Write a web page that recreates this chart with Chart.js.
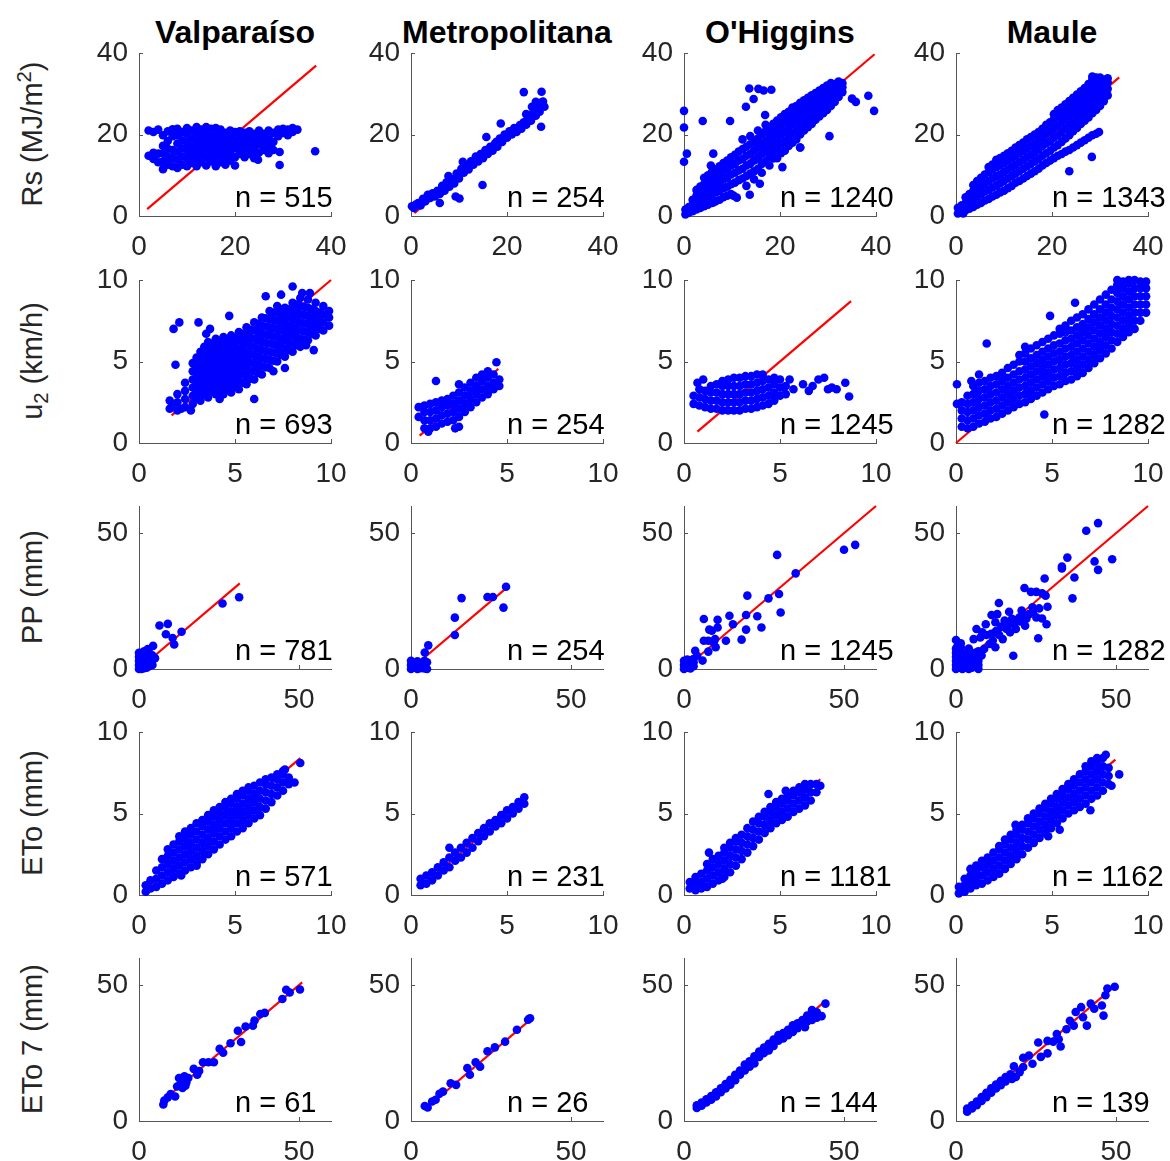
<!DOCTYPE html>
<html>
<head>
<meta charset="utf-8">
<script src="https://cdn.jsdelivr.net/npm/chart.js@4.4.1/dist/chart.umd.min.js"></script>
<style>
    body { margin: 0; background: #fff; }
    #fig { position: relative; width: 1170px; height: 1161px; overflow: hidden; font-family: 'Liberation Sans', Arial, sans-serif; }
    #fig canvas { position: absolute; }
    .title { position: absolute; width: 272px; text-align: center; font-weight: bold; font-size: 32px; line-height: 32px; color: #000; white-space: nowrap; }
    .ylab { position: absolute; font-size: 29px; line-height: 29px; color: #262626; white-space: nowrap; transform: translate(-50%, -50%) rotate(-90deg); }
    .ylab sup { font-size: 70%; line-height: 0; }
    .ylab sub { font-size: 70%; line-height: 0; }
    .nlab { position: absolute; font-size: 29px; line-height: 29px; color: #000; white-space: nowrap; }
</style>
</head>
<body>
<div id="fig"></div>
<script>
// Régions et effectifs
const regions = ['Valparaíso', 'Metropolitana', "O'Higgins", 'Maule'];
const nRs = [515, 254, 1240, 1343];
const nU2 = [693, 254, 1245, 1282];
const nPP = [781, 254, 1245, 1282];
const nETo = [571, 231, 1181, 1162];
const nETo7 = [61, 26, 144, 139];

// Graduations des axes
const ticksRs = [0, 20, 40];
const ticksU2 = [0, 5, 10];
const ticksPP = [0, 50];
const ticksETo = [0, 5, 10];
const ticksETo7 = [0, 50];

// Droites 1:1 (début, fin)
const lineRs = [[1.7, 36.9], [0.7, 28], [0.3, 39.7], [0.5, 34]];
const lineU2 = [[1.7, 10], [0.45, 4.55], [0.7, 8.7], [0, 9.9]];
const linePP = [[0, 31.5], [0, 29.5], [0, 60], [0, 60]];
const lineETo = [[0.3, 8.4], [0.5, 6], [0.5, 7.1], [0.2, 8.3]];
const lineETo7 = [[7, 51], [4.5, 37.5], [4, 44.5], [3.5, 50]];

// Points : chaque entrée = [x, y1, y2, ...]
const rsValparaiso = [
    [2, 14.8, 21], [3, 14, 15.5, 20.6], [4, 13.2, 15.3, 21.2], [5, 11.5, 13.4, 15.4, 17.2, 19.8],
    [6, 12.6, 14.5, 16.5, 18.4, 20.8], [7, 12.2, 14.2, 16.2, 19.6, 21.3], [8, 11.8, 13.8, 15.8, 17.8, 19.8, 21.4],
    [9, 12.6, 14.6, 16.6, 18.6, 20.6], [10, 12.2, 14.2, 16.2, 18.2, 20.2, 21.6], [11, 13, 15, 17, 19, 21],
    [12, 12.2, 14.2, 16.2, 18.2, 20.2, 21.8], [13, 13.2, 15.2, 17.2, 19.2, 21.2],
    [14, 12.4, 14.4, 16.4, 18.4, 20.4, 21.8], [15, 13.4, 15.4, 17.4, 19.4, 21.4],
    [16, 12.2, 14.2, 16.2, 18.2, 20.2, 21.6], [17, 13.2, 15.2, 17.2, 19.2, 21.2], [18, 12.6, 14.4, 16.4, 18.4, 20.4],
    [19, 13.6, 15.4, 17.4, 19.4, 21], [20, 12.4, 14.4, 16.6, 18.6, 20.6], [21, 15.2, 17.2, 19.2, 20.8],
    [22, 14.4, 16.4, 18.4, 20.4], [23, 15.2, 17.2, 19.2, 20.8], [24, 14.2, 16.2, 18.2, 20.2], [24.8, 13.8],
    [25, 15.6, 17.6, 19.6, 21], [26, 16.2, 18.2, 20.2], [27, 15.4, 17.2, 19.2, 21], [28, 16.2, 18.2, 20.4],
    [29, 19.6, 21.2], [29.3, 15.7, 12.5], [30, 20.4, 21.4], [31, 19.8, 21.2], [32, 20.6, 21.6], [33, 21.2],
    [36.7, 15.9]
];
const rsMetropolitana = [
    [0.2, 2.4], [0.6, 2], [1, 2.8], [1.5, 3.2], [2, 2.6], [2.5, 4.2], [3, 3.6], [3.5, 5.2], [4, 4.4],
    [4.5, 5.6], [5, 4.8], [5.5, 6.2], [6, 5.4, 3.2], [6.5, 7.4], [7, 6.2], [7.4, 8.3], [7.8, 9.8], [8, 7.2],
    [8.5, 9], [9, 8], [9.3, 4.8], [9.5, 10.4], [10, 9.2], [10.1, 4.3], [10.5, 11.6], [10.8, 13.3], [11, 10.6],
    [11.5, 12.2], [12, 11.4], [12.5, 13.4], [13, 12.6], [13.5, 14.6], [14, 13.4], [14.5, 15.2], [14.9, 7.6],
    [15, 14.2], [15.5, 16.2], [15.7, 19.4], [16, 15.2], [16.5, 17], [17, 16], [17.5, 17.8], [17.8, 18.2],
    [18, 17], [18.5, 19], [18.7, 22.7], [19, 18.2], [19.5, 20], [20, 19.2], [20.5, 20.8], [21, 20],
    [21.5, 21.6], [22, 20.6], [22.7, 22.3], [23, 21.4], [23.5, 30.4, 23], [24, 22.4, 25], [24.5, 24.2],
    [25, 23.4], [25.2, 26.8], [25.5, 25.6], [26, 24.6, 28], [26.5, 26.8], [26.8, 25.6], [27, 27.8],
    [27.1, 21.9], [27.2, 30.5], [27.5, 28.1], [27.8, 26.8]
];
const rsOHiggins = [
    [0.3, 0.4, 1.6], [1, 0.8, 2.2], [1.8, 1.2, 2.8, 4], [2.6, 1.6, 3.3, 5, 6.4], [3.4, 2, 3.8, 5.6, 7.2],
    [4.2, 2.4, 4.2, 6, 7.8, 9.4], [5, 2.8, 4.8, 6.6, 8.4, 10], [5.8, 3.2, 5.2, 7.2, 9, 10.8],
    [6.6, 3.6, 5.8, 7.8, 9.6, 11.4], [7.4, 4, 6.2, 8.2, 10.2, 12.2], [8.2, 4.6, 6.8, 9, 11, 13],
    [9, 5, 7.2, 9.4, 11.6, 13.6], [9.8, 5.4, 7.8, 10.2, 12.4, 14.4], [10.6, 8.2, 10.6, 12.8, 15],
    [11.4, 8.8, 11.2, 13.6, 15.8], [12.2, 9.2, 11.6, 14, 16.4, 18.8], [13, 7.4, 9.8, 12.4, 14.8, 17],
    [13.8, 10.4, 12.8, 15.2, 17.6, 19.6], [14.6, 9, 11, 13.6, 16, 18.2], [15.4, 11.6, 14.2, 16.8, 19, 21],
    [16.2, 10.6, 12.8, 15.2, 17.6, 20], [17, 13.4, 16, 18.4, 20.8, 22.4], [17.8, 12.4, 14.6, 17, 19.4, 21.6],
    [18.6, 14.1, 15.6, 18, 20.4, 22.6], [19.4, 14.2, 16.6, 19, 21.4, 23.4], [20.2, 15.4, 17.6, 20, 22.4, 24.2],
    [21, 16, 18.4, 20.8, 23.2, 25], [21.8, 17.2, 19.4, 21.8, 24, 25.6], [22.6, 18, 20.4, 22.6, 24.8, 26.6],
    [23.4, 18.8, 21, 23.4, 25.6, 27], [24.2, 16.8, 20, 22.2, 24.4, 26.4, 27.8], [25, 21, 23.2, 25.4, 27.2, 28.4],
    [25.8, 21.8, 24, 26.2, 28, 29], [26.6, 22.6, 24.8, 27, 28.6, 29.6], [27.4, 23.6, 25.6, 27.6, 29.2, 30.2],
    [28.2, 24.4, 26.4, 28.4, 30, 30.8], [29, 25.2, 27.2, 29, 30.6, 31.4], [29.8, 26, 28, 29.8, 31.2, 32],
    [30.6, 27, 28.8, 30.4, 31.8, 32.6], [31.4, 28, 29.6, 31, 32.4], [32.2, 29.2, 30.6, 31.8, 33],
    [33, 30.4, 31.6, 32.6],
    [0, 25.8, 21.7, 13.3], [0.6, 15.3], [3.9, 23.3], [9.6, 23.3], [13.6, 31.3], [15.5, 31.2], [16.6, 30.8],
    [18.2, 31], [14.5, 28.7], [12.9, 26.8], [16.9, 24.8], [38.4, 29.5], [39.6, 25.8], [35, 28.8], [35.8, 28],
    [30.3, 19.6], [24.2, 16.8], [5.6, 12.4], [6.1, 15.3, 3.3], [10.3, 5], [13.7, 5.2], [15.8, 7.9],
    [20.5, 12], [11, 4.5]
];
const rsMaule = [
    [0.4, 0.6, 2], [1.2, 1, 2.6], [2, 1.4, 3.2, 4.6], [2.8, 1.8, 3.6, 5.4], [3.6, 2.2, 4.2, 6.2, 7.6],
    [4.4, 2.8, 4.8, 6.8, 8.6], [5.2, 3.2, 5.4, 7.4, 9.4], [6, 3.8, 6, 8, 10.2], [6.8, 4.2, 6.4, 8.6, 10.8, 12],
    [7.6, 4.8, 7, 9.2, 11.4, 12.6], [8.4, 5.2, 7.4, 9.8, 12, 13.8], [9.2, 5.8, 8, 10.2, 12.4, 14.2],
    [10, 6.2, 8.6, 10.8, 13, 14.8], [10.8, 6.8, 9.2, 11.4, 13.6, 15.4], [11.6, 7.4, 9.8, 12, 14.2, 16],
    [12.4, 8.2, 10.4, 12.6, 14.8, 16.8], [13.2, 8.6, 11, 13.2, 15.4, 17.4], [14, 9.2, 11.6, 13.8, 16, 18],
    [14.8, 9.8, 12.2, 14.4, 16.6, 18.8], [15.6, 10.4, 12.8, 15, 17.2, 19.4], [16.4, 11, 13.4, 15.6, 17.8, 20],
    [17.2, 11.6, 14, 16.4, 18.6, 20.6], [18, 12.4, 14.8, 17.2, 19.4, 21.4], [18.8, 13, 15.4, 17.8, 20.2, 22.4],
    [19.6, 13.6, 16, 18.4, 20.8, 23], [20.4, 14.2, 16.8, 19.2, 21.6, 23.8, 25],
    [21.2, 14.8, 17.4, 19.8, 22.2, 24.4, 26], [22, 15.2, 18.2, 20.6, 23, 25.2, 26.6],
    [22.8, 15.8, 19, 21.4, 23.8, 26, 27.4], [23.6, 16.2, 19.8, 22.2, 24.6, 26.8, 28.2],
    [24.4, 16.8, 20.8, 23, 25.4, 27.6, 29], [25.2, 17.4, 21.6, 23.8, 26.2, 28.4, 29.8],
    [26, 18, 22.6, 24.8, 27, 29.2, 30.6], [26.8, 18.6, 23.4, 25.6, 27.8, 30, 31.4],
    [27.6, 19.2, 24.2, 26.4, 28.6, 30.8, 32.4], [28.4, 19.8, 25.2, 27.4, 29.6, 31.6, 33.4, 34.2],
    [29.2, 20.2, 26, 28.2, 30.4, 32.4, 34], [30, 27, 29, 31, 33, 34], [30.8, 28.2, 30, 31.8, 33.4],
    [31.6, 29.6, 31.2, 32.8, 33.8],
    [28.3, 14.5], [23.6, 11], [29.8, 20.6], [1.5, 0.6]
];

const u2Valparaiso = [
    [1.6, 2.1, 2.6], [2, 2, 2.5, 3], [2.4, 2.2, 2.7, 3.2, 3.7], [2.8, 2.4, 2.9, 3.4, 3.9, 4.4, 4.9],
    [3, 2.75, 3.25, 3.75, 4.25, 4.75, 5.25],
    [3.2, 2.6, 3.1, 3.6, 4.1, 4.6, 5.1, 5.6], [3.4, 2.95, 3.45, 3.95, 4.45, 4.95, 5.45, 5.9],
    [3.6, 2.8, 3.3, 3.8, 4.3, 4.8, 5.3, 5.8, 6.2], [3.8, 3.15, 3.65, 4.15, 4.65, 5.15, 5.65, 6.1],
    [4, 3, 3.5, 4, 4.5, 5, 5.5, 6, 6.4], [4.2, 3.25, 3.75, 4.25, 4.75, 5.25, 5.75, 6.25],
    [4.4, 3, 3.5, 4, 4.5, 5, 5.5, 6, 6.5], [4.6, 3.3, 3.8, 4.3, 4.8, 5.3, 5.8, 6.3],
    [4.8, 3.1, 3.6, 4.1, 4.6, 5.1, 5.6, 6.1, 6.6], [5, 3.45, 3.95, 4.45, 4.95, 5.45, 5.95, 6.45],
    [5.2, 3.3, 3.8, 4.3, 4.8, 5.3, 5.8, 6.3, 6.8], [5.4, 3.7, 4.2, 4.7, 5.2, 5.7, 6.2, 6.7],
    [5.6, 3.6, 4.1, 4.6, 5.1, 5.6, 6.1, 6.6, 7.1], [5.8, 3.95, 4.45, 4.95, 5.45, 5.95, 6.45, 6.95],
    [6, 3.9, 4.4, 4.9, 5.4, 5.9, 6.4, 6.9, 7.4], [6.2, 4.3, 4.8, 5.3, 5.8, 6.3, 6.8, 7.3],
    [6.4, 4.2, 4.7, 5.2, 5.7, 6.2, 6.7, 7.2, 7.7], [6.6, 4.65, 5.15, 5.65, 6.15, 6.65, 7.15, 7.65],
    [6.8, 4.6, 5.1, 5.6, 6.1, 6.6, 7.1, 7.6, 8.1], [7, 5.05, 5.55, 6.05, 6.55, 7.05, 7.55, 8],
    [7.2, 5, 5.5, 6, 6.5, 7, 7.5, 8, 8.4], [7.4, 5.4, 5.9, 6.4, 6.9, 7.4, 7.9, 8.2],
    [7.6, 5.3, 5.8, 6.3, 6.8, 7.3, 7.8, 8.3], [7.8, 5.7, 6.2, 6.7, 7.2, 7.7, 8.2],
    [8, 5.6, 6.1, 6.6, 7.1, 7.6, 8.1, 8.6], [8.2, 6, 6.5, 7, 7.5, 8, 8.5],
    [8.4, 5.9, 6.4, 6.9, 7.4, 7.9, 8.4, 8.9], [8.6, 6.35, 6.85, 7.35, 7.85, 8.35],
    [8.8, 6.3, 6.8, 7.3, 7.8, 8.3, 8.8], [9, 6.7, 7.2, 7.7, 8.2],
    [9.2, 6.6, 7.1, 7.6, 8.1, 8.6], [9.4, 7, 7.5, 8], [9.6, 6.9, 7.4, 7.9, 8.4],
    [9.9, 7.2, 7.7, 8.1],
    [1.8, 7], [2.1, 7.4], [3.1, 7.4], [3.5, 6.7], [3.7, 7], [4.7, 7.8], [8, 9.6], [8.5, 9.2], [8.9, 9.2],
    [9.1, 5.7], [8.7, 6], [7.6, 4.6], [7, 4.4], [6, 2.7], [1.7, 2.2], [2.2, 2.1], [2.7, 2], [4.2, 2.7],
    [1.9, 4.8], [7.4, 9.1], [6.6, 9]
];
const u2Metropolitana = [
    [0.4, 1.6, 2.2], [0.7, 0.9, 1.4, 1.9, 2.3], [1, 0.9, 1.4, 1.9, 2.4], [1.3, 1, 1.5, 2, 2.5],
    [1.6, 1.2, 1.7, 2.2, 2.6], [1.9, 1.3, 1.8, 2.3, 2.7], [2.2, 1.4, 1.9, 2.4, 2.9], [2.5, 1.6, 2.1, 2.6, 3.1],
    [2.8, 1.9, 2.4, 2.9, 3.4], [3.1, 2.2, 2.7, 3.2, 3.7], [3.4, 2.5, 3, 3.5, 4], [3.7, 2.8, 3.3, 3.8, 4.2],
    [4, 3, 3.5, 4, 4.4], [4.3, 3.3, 3.7, 4.2], [4.6, 3.5, 3.9],
    [1.3, 3.8], [2.5, 3.6, 1], [2.3, 0.9], [4.45, 4.95], [0.9, 0.7]
];
const u2OHiggins = [
    [0.5, 2.4, 2.9], [0.8, 2.3, 2.8, 3.3], [1.1, 2.2, 2.7, 3.2], [1.4, 2.1, 2.6, 3.1, 3.5],
    [1.7, 2.1, 2.6, 3.1, 3.6], [2, 2, 2.5, 3, 3.5, 3.8], [2.3, 2, 2.5, 3, 3.5, 3.9], [2.6, 2, 2.5, 3, 3.5, 4],
    [2.9, 2, 2.5, 3, 3.5, 4], [3.2, 2.1, 2.6, 3.1, 3.6, 4.1], [3.5, 2.1, 2.6, 3.1, 3.6, 4.1],
    [3.8, 2.2, 2.7, 3.2, 3.7, 4.2], [4.1, 2.3, 2.8, 3.3, 3.8, 4.2], [4.4, 2.4, 2.9, 3.4, 3.9],
    [4.7, 2.6, 3.1, 3.6, 4], [5, 2.9, 3.4, 3.9], [5.3, 3, 3.5],
    [0.7, 3.7], [1, 3.9], [4.65, 3], [5.17, 3.4], [5.5, 3.9], [5.7, 3.3], [6.2, 3.6], [6.5, 3.2], [6.7, 3.5],
    [7, 3.9], [7.3, 4], [7.5, 3.3], [7.7, 3.4], [7.95, 3.3], [8.4, 3.7], [8.6, 2.85]
];
const u2Maule = [
    [0.05, 2.4, 3.6], [0.3, 1, 1.5, 2, 2.5], [0.6, 0.9, 1.4, 1.9, 2.4, 2.9], [0.9, 1, 1.5, 2, 2.5, 3, 3.5],
    [1.2, 1.2, 1.7, 2.2, 2.7, 3.2, 3.7], [1.5, 1.3, 1.8, 2.3, 2.8, 3.3, 3.8], [1.8, 1.5, 2, 2.5, 3, 3.5, 4],
    [2.1, 1.6, 2.1, 2.6, 3.1, 3.6, 4.1], [2.4, 1.8, 2.3, 2.8, 3.3, 3.8, 4.3], [2.7, 2, 2.5, 3, 3.5, 4, 4.6],
    [3, 2.2, 2.7, 3.2, 3.7, 4.2, 4.8], [3.3, 2.4, 2.9, 3.4, 3.9, 4.4, 5, 5.4], [3.6, 2.5, 3, 3.5, 4, 4.5, 5, 5.5],
    [3.9, 2.7, 3.2, 3.7, 4.2, 4.7, 5.2, 5.8], [4.2, 2.9, 3.4, 3.9, 4.4, 4.9, 5.4, 6],
    [4.5, 3.1, 3.6, 4.1, 4.6, 5.1, 5.6, 6.2], [4.8, 3.3, 3.8, 4.3, 4.8, 5.3, 5.8, 6.4],
    [5.1, 3.5, 4, 4.5, 5, 5.5, 6, 6.6], [5.4, 3.6, 4.1, 4.6, 5.1, 5.6, 6.1, 6.7, 7],
    [5.7, 3.8, 4.3, 4.8, 5.3, 5.8, 6.3, 6.8, 7.2], [6, 3.9, 4.4, 4.9, 5.4, 5.9, 6.4, 6.9, 7.5],
    [6.3, 4.1, 4.6, 5.1, 5.6, 6.1, 6.6, 7.1, 7.7], [6.6, 4.3, 4.8, 5.3, 5.8, 6.3, 6.8, 7.3, 7.9],
    [6.9, 4.6, 5.1, 5.6, 6.1, 6.6, 7.1, 7.6, 8.2], [7.2, 4.9, 5.4, 5.9, 6.4, 6.9, 7.4, 7.9, 8.5],
    [7.5, 5.2, 5.7, 6.2, 6.7, 7.2, 7.7, 8.2, 8.8], [7.8, 5.5, 6, 6.5, 7, 7.5, 8, 8.5, 9.1],
    [8.1, 5.8, 6.3, 6.8, 7.3, 7.8, 8.3, 8.8, 9.4], [8.4, 6.2, 6.7, 7.2, 7.7, 8.2, 8.7, 9.2, 9.7, 10],
    [8.7, 6.5, 7, 7.5, 8, 8.5, 9, 9.5, 9.9], [9, 6.8, 7.3, 7.8, 8.3, 8.8, 9.3, 9.8, 10],
    [9.3, 7, 7.5, 8, 8.5, 9, 9.5, 10], [9.6, 7.5, 8, 8.5, 9, 9.5, 9.9], [9.9, 8, 8.5, 9, 9.5, 9.9],
    [1.6, 6.1], [4.9, 7.8], [4.6, 1.75], [1.2, 4.2], [0.8, 3.8], [3.6, 5.9], [6.2, 8.6]
];

const ppValparaiso = [
    [0, 0, 1.5, 3, 4.5, 6], [0.8, 0, 1.2, 2.5, 4, 5.5], [1.6, 0.3, 1.8, 3.2, 4.8, 6.5], [2.4, 0.5, 2, 3.5, 5.2],
    [3.2, 1, 2.5, 4.2, 6], [4.2, 1.5, 3.2, 5], [4.4, 8.5], [2.7, 7.3], [5, 4], [6.4, 16], [9, 16.6], [8.4, 12.8],
    [10.5, 11.4], [11, 9], [13.3, 13.7], [26.1, 24.1], [31.3, 26.4]
];
const ppMetropolitana = [
    [0, 0, 1.5, 3], [1, 0.5, 2], [2, 0, 1.4, 2.8], [3, 0.3, 1.8], [4.2, 0.2, 1.2, 3], [5, 0, 2.5],
    [4.3, 6.1], [5.4, 8.7], [13.7, 12.5, 18.9], [15.8, 26.1], [23.9, 26.5], [25.6, 26.5], [29.7, 30.3], [28.9, 22.6]
];
const ppOHiggins = [
    [0, 0, 1.5, 3], [1, 0.5, 2, 3.5], [2, 0.2, 1.6, 3], [3, 1, 2.5], [2.9, 3.7], [4.1, 4.9], [3.5, 6.7], [5.8, 3.1],
    [7.6, 6.4, 10.4], [9.9, 8], [9.7, 11], [9.3, 9.8], [6.2, 10.4, 18.4], [8.7, 14.1], [10.5, 18.1, 15.3],
    [7.9, 14.5], [13.1, 10.4], [14.2, 19.6], [15.3, 16.5], [18, 10.8], [19.4, 14.5, 19.9], [24.2, 15.3],
    [22.9, 19.4], [30.2, 20.8], [19.8, 27], [26.4, 26], [29.7, 27.6], [34.9, 35.2], [29.1, 42], [50, 43.9],
    [53.5, 45.7]
];
const ppMaule = [
    [0, 0, 1.5, 3, 4.5, 6, 7.5, 10.7], [0.5, 8.5], [1, 0.5, 2, 3.5, 5], [1.5, 8, 9.5], [2, 0, 1.5, 3, 4.5, 6],
    [3, 0.5, 2, 3.5, 5], [4, 0, 1.5, 3, 4.5, 7.5], [5, 0.5, 2, 3.5, 5.5], [6, 1, 2.5, 4, 6], [7, 0, 1.5, 3, 6.5],
    [8, 5], [5.5, 11], [6.4, 14.7], [7.6, 11.6], [8.2, 13.5], [8.8, 7.4], [9.3, 16.5], [9.5, 12.5], [10.5, 9.2],
    [11, 13], [11.1, 19.9], [11.5, 10.5], [12.3, 17.2, 8], [12.5, 14], [12.9, 20.2], [13.4, 24.3], [13.5, 12.5],
    [14, 15.5], [14.6, 11], [15.2, 17.8], [15.8, 14.7], [16.4, 16.5], [16.6, 21.1], [16.9, 13.5], [17.5, 18.5],
    [17.9, 4.9], [18.1, 16.5], [18.7, 14.7], [19, 18.1], [19.9, 19], [20, 17.5], [20.5, 21.5], [21.4, 19.6, 29.8],
    [21.6, 15.9], [22, 18.5], [22.8, 20.2], [23.4, 28.4], [23.9, 22.7], [24, 21], [25.1, 19, 28.4], [25.7, 11.3],
    [26, 22.3], [26.9, 18.6, 27.9], [27.7, 33.3], [28, 27], [28.3, 16.5], [28.6, 22.9], [33.1, 37.7, 37],
    [34.8, 41], [36.4, 26], [37, 33.7], [40.7, 50.9], [43.3, 39.6], [44.4, 36.5, 53.7], [48.8, 40.4]
];

const etoValparaiso = [
    [0.35, 0.2, 0.6], [0.6, 0.4, 0.9], [0.9, 0.5, 1, 1.5], [1.2, 0.7, 1.2, 1.7, 2.2], [1.5, 0.9, 1.4, 1.9, 2.4, 2.8],
    [1.8, 1.1, 1.6, 2.1, 2.6, 3.1], [2.1, 1.3, 1.8, 2.3, 2.8, 3.3, 3.6], [2.4, 1.5, 2, 2.5, 3, 3.5, 3.9],
    [2.7, 1.7, 2.2, 2.7, 3.2, 3.7, 4.1], [3, 1.9, 2.4, 2.9, 3.4, 3.9, 4.4], [3.3, 2.2, 2.7, 3.2, 3.7, 4.2, 4.6],
    [3.6, 2.5, 3, 3.5, 4, 4.5, 4.9], [3.9, 2.8, 3.3, 3.8, 4.3, 4.8, 5.2], [4.2, 3.1, 3.6, 4.1, 4.6, 5.1, 5.4],
    [4.5, 3.4, 3.9, 4.4, 4.9, 5.4, 5.7], [4.8, 3.6, 4.1, 4.6, 5.1, 5.6, 5.9], [5.1, 3.9, 4.4, 4.9, 5.4, 5.9, 6.2],
    [5.4, 4.1, 4.6, 5.1, 5.6, 6.1, 6.4], [5.7, 4.4, 4.9, 5.4, 5.9, 6.4, 6.6], [6, 4.7, 5.2, 5.7, 6.2, 6.7],
    [6.3, 4.9, 5.4, 5.9, 6.4, 6.9], [6.6, 5.3, 5.8, 6.3, 6.8, 7.1], [6.9, 5.7, 6.2, 6.7, 7.2],
    [7.2, 6.1, 6.6, 7.1, 7.4], [7.5, 6.4, 6.9, 7.4, 7.6], [7.8, 6.8, 7.2],
    [8.4, 8.1], [8.1, 6.9], [3, 1.8], [2.2, 1.2], [7.6, 7.7]
];
const etoMetropolitana = [
    [0.5, 0.6, 1], [0.8, 0.7, 1.2], [1.1, 0.9, 1.4], [1.4, 1.2, 1.7], [1.7, 1.5, 2], [2, 1.7, 2.3, 2.9],
    [2.3, 2.1, 2.6], [2.6, 2.3, 2.9], [2.9, 2.6, 3.2], [3.2, 2.9, 3.5], [3.5, 3.3, 3.8], [3.8, 3.6, 4.1],
    [4.1, 3.9, 4.4], [4.4, 4.2, 4.6], [4.7, 4.4, 4.9], [5, 4.7, 5.2], [5.3, 5, 5.4], [5.6, 5.3, 5.7], [5.9, 5.6, 6]
];
const etoOHiggins = [
    [0.3, 0.4, 0.8], [0.6, 0.3, 0.7, 1.1], [0.9, 0.4, 0.8, 1.3], [1.2, 0.5, 1, 1.5, 1.9], [1.5, 0.7, 1.2, 1.7, 2.2],
    [1.8, 0.9, 1.4, 1.9, 2.4], [2.1, 1.1, 1.6, 2.1, 2.6, 2.9], [2.4, 1.4, 1.9, 2.4, 2.9, 3.2],
    [2.7, 1.8, 2.3, 2.8, 3.3, 3.5], [3, 2.2, 2.7, 3.2, 3.7], [3.3, 2.6, 3.1, 3.6, 4.1], [3.6, 3, 3.5, 4, 4.5],
    [3.9, 3.4, 3.9, 4.4, 4.8], [4.2, 3.8, 4.3, 4.8, 5.1], [4.5, 4.1, 4.6, 5.1, 5.4], [4.8, 4.4, 4.9, 5.4, 5.7],
    [5.1, 4.6, 5.1, 5.6, 5.9], [5.4, 4.8, 5.3, 5.8, 6.1], [5.7, 5.1, 5.6, 6.1, 6.4], [6, 5.3, 5.8, 6.3, 6.6],
    [6.3, 5.5, 6, 6.5, 6.8], [6.6, 5.8, 6.3, 6.8], [6.9, 6.3, 6.8],
    [1.3, 2.6], [4.4, 6.2], [5.3, 6.4], [7.1, 6.7], [2, 1]
];
const etoMaule = [
    [0.15, 0.1, 0.5], [0.45, 0.2, 0.6, 1], [0.75, 0.4, 0.8, 1.2, 1.6], [1.05, 0.6, 1, 1.4, 1.8],
    [1.35, 0.7, 1.2, 1.7, 2.1], [1.65, 0.9, 1.4, 1.9, 2.3], [1.95, 1.1, 1.6, 2.1, 2.6],
    [2.25, 1.3, 1.8, 2.3, 2.8, 3], [2.55, 1.6, 2.1, 2.6, 3.1, 3.4], [2.85, 1.9, 2.4, 2.9, 3.4, 3.7],
    [3.15, 2.2, 2.7, 3.2, 3.7, 4], [3.45, 2.5, 3, 3.5, 4, 4.3], [3.75, 2.9, 3.4, 3.9, 4.4, 4.7],
    [4.05, 3.2, 3.7, 4.2, 4.7, 5], [4.35, 3.5, 4, 4.5, 5, 5.3], [4.65, 3.8, 4.3, 4.8, 5.3, 5.6],
    [4.95, 4.1, 4.6, 5.1, 5.6, 5.9], [5.25, 4.4, 4.9, 5.4, 5.9, 6.2], [5.55, 4.7, 5.2, 5.7, 6.2, 6.5],
    [5.85, 5, 5.5, 6, 6.5, 6.8], [6.15, 5.2, 5.7, 6.2, 6.7, 7.1], [6.45, 5.4, 5.9, 6.4, 6.9, 7.4],
    [6.75, 5.6, 6.1, 6.6, 7.1, 7.6, 7.9], [7.05, 5.9, 6.4, 6.9, 7.4, 7.9, 8.2], [7.35, 6.1, 6.6, 7.1, 7.6, 8.1, 8.4],
    [7.65, 6.4, 6.9, 7.4, 7.9, 8.4], [7.95, 6.8, 7.3, 7.8],
    [3.1, 4.3], [5.4, 4], [4.8, 3.6], [7, 5.2], [8.1, 6.7], [8.5, 7.4], [7.8, 8.6]
];

const eto7Valparaiso = [
    [7.6, 6.1], [7.9, 7.5], [9, 8.7], [9.9, 9.95], [11.3, 9], [11.9, 12.7], [12.5, 15.8], [13, 13.9],
    [13.6, 14.9, 12.2], [14.2, 16.5], [14.5, 13], [14.8, 14.2], [15.4, 15.8], [17.1, 19.2], [18.2, 17],
    [18.8, 18.4], [20, 21.6], [21.7, 21.6], [23.4, 21.6], [25.2, 26.6], [26.3, 25.1], [28.6, 28.6],
    [30.9, 33.2], [31.9, 29.1], [33.3, 34.8], [35.6, 35.1], [36.1, 37], [37.9, 39.4], [39.3, 39.8],
    [44.8, 44.9], [46, 48.3], [47.1, 47.3], [50.3, 48.4]
];
const eto7Metropolitana = [
    [4.3, 5.5], [5.2, 5], [6.6, 7.2], [7.7, 7.8], [8.9, 10], [10, 10.8], [12.4, 13.9], [14.1, 13.3],
    [17.6, 19.5], [18.4, 17], [20.2, 21.6], [21.6, 20], [23.9, 25.7], [26.2, 27.1], [29.4, 29.2],
    [33.1, 33.6], [36.6, 37.3], [37.2, 37.8]
];
const eto7OHiggins = [
    [4, 4.8, 5.8], [5.5, 5.6, 6.8], [7, 6.8, 8], [8.5, 7.8, 9.2], [10, 9, 10.6], [11.5, 10.6, 12],
    [13, 12, 13.6], [14.5, 13.4, 15.2], [16, 15, 17], [17.5, 17, 18.6], [19, 18.6, 20.8], [20.5, 20, 22],
    [22, 21.2, 23.8], [23.5, 23.6, 25.6], [25, 25, 27], [26.5, 26, 28.4], [28, 27.6, 30], [29.5, 29.6, 31.6],
    [31, 30.4, 32.4], [32.5, 31.6, 33.6], [34, 32.8, 35.2], [35.5, 34.2, 36], [37, 35.4, 37.2],
    [38.5, 36.6, 38.8], [40, 37.2, 39.2, 40.8], [41.5, 38, 40], [43, 38.6], [44.2, 43.2], [37.8, 34.5]
];
const eto7Maule = [
    [3.5, 3.4, 4.6], [5, 4.6, 5.8], [6.5, 5.8, 7.2], [8, 7.4, 8.8], [9.5, 8.8, 10.4], [11, 10.4, 12],
    [12.5, 12, 13.4], [14, 13.2, 14.8], [15.5, 14.6, 16.2], [17, 15.8, 17.2], [17.5, 15.5], [18.1, 20.1],
    [18.7, 16.2], [19.9, 18], [21, 23.3, 19.9], [22.8, 24.1], [23.9, 21.1], [25.7, 28.9], [26.5, 23.6],
    [28.6, 29.5, 24.9], [30.4, 29.2], [31.5, 32], [32.1, 30.1], [32.7, 27.4], [34.5, 33.8], [35.6, 36.9],
    [36.8, 35.1], [37.4, 40.1], [39.1, 41.9], [39.7, 38.2], [40.9, 35.1], [42.1, 43.2], [43.2, 41.3],
    [45.6, 42.5], [46.1, 38.8], [46.7, 46.3], [47.3, 48.8], [49.6, 49.4]
];

// Une ligne de sous-graphiques par variable
const rows = [
    { label: 'Rs (MJ/m<sup>2</sup>)', max: 40, ticks: ticksRs, n: nRs, lines: lineRs,
      data: [rsValparaiso, rsMetropolitana, rsOHiggins, rsMaule] },
    { label: 'u<sub>2</sub> (km/h)', max: 10, ticks: ticksU2, n: nU2, lines: lineU2,
      data: [u2Valparaiso, u2Metropolitana, u2OHiggins, u2Maule] },
    { label: 'PP (mm)', max: 60, ticks: ticksPP, n: nPP, lines: linePP,
      data: [ppValparaiso, ppMetropolitana, ppOHiggins, ppMaule] },
    { label: 'ETo (mm)', max: 10, ticks: ticksETo, n: nETo, lines: lineETo,
      data: [etoValparaiso, etoMetropolitana, etoOHiggins, etoMaule] },
    { label: 'ETo 7 (mm)', max: 60, ticks: ticksETo7, n: nETo7, lines: lineETo7,
      data: [eto7Valparaiso, eto7Metropolitana, eto7OHiggins, eto7Maule] }
];

// Mise en page
const colLeft = [139, 411, 684, 956];
const rowTop = [53, 280, 506, 732, 958];
const PLOT_W = 192, PLOT_H = 161;
const PAD_L = 70, PAD_T = 36, PAD_R = 30, PAD_B = 50;
const FONT = "'Liberation Sans', Arial, sans-serif";
const AXIS = '#555555';

const fig = document.getElementById('fig');

// [x, y1, y2, ...] -> liste de points {x, y}
function toPoints(cols) {
    const pts = [];
    cols.forEach(c => {
        for (let i = 1; i < c.length; i++) pts.push({ x: c[0], y: c[i] });
    });
    return pts;
}

// Petites graduations tournées vers l'intérieur
const ticksIn = {
    id: 'ticksIn',
    beforeDatasetsDraw(chart) {
        const { ctx, chartArea: a, scales: { x, y } } = chart;
        ctx.save();
        ctx.strokeStyle = AXIS;
        ctx.lineWidth = 1;
        ctx.beginPath();
        x.ticks.forEach(t => {
            const px = Math.round(x.getPixelForValue(t.value)) + 0.5;
            ctx.moveTo(px, a.bottom);
            ctx.lineTo(px, a.bottom - 4);
        });
        y.ticks.forEach(t => {
            const py = Math.round(y.getPixelForValue(t.value)) + 0.5;
            ctx.moveTo(a.left, py);
            ctx.lineTo(a.left + 4, py);
        });
        ctx.stroke();
        ctx.restore();
    }
};

function axisOptions(row, isX) {
    return {
        type: 'linear',
        min: 0,
        max: row.max,
        afterBuildTicks: scale => { scale.ticks = row.ticks.map(v => ({ value: v })); },
        afterFit: scale => {
            if (isX) scale.height = PAD_B - 2;
            else scale.width = PAD_L;
        },
        grid: { display: false, drawTicks: false },
        border: { display: true, color: AXIS, width: 1 },
        ticks: {
            color: '#262626',
            font: { family: FONT, size: 28 },
            padding: isX ? 14 : 11,
            maxRotation: 0,
            autoSkip: false
        }
    };
}

function createPanel(row, r, c) {
    const canvas = document.createElement('canvas');
    canvas.width = PAD_L + PLOT_W + PAD_R;
    canvas.height = PAD_T + PLOT_H + PAD_B;
    canvas.style.left = (colLeft[c] - PAD_L) + 'px';
    canvas.style.top = (rowTop[r] - PAD_T) + 'px';
    fig.appendChild(canvas);

    const [a, b] = row.lines[c];
    return new Chart(canvas.getContext('2d'), {
        type: 'scatter',
        data: {
            datasets: [
                {
                    data: toPoints(row.data[c]),
                    pointRadius: 4.3,
                    pointHoverRadius: 4.3,
                    pointBackgroundColor: '#0000ff',
                    pointBorderWidth: 0,
                    clip: false
                },
                {
                    data: [{ x: a, y: a }, { x: b, y: b }],
                    showLine: true,
                    borderColor: '#ff0000',
                    borderWidth: 2.2,
                    pointRadius: 0,
                    clip: false
                }
            ]
        },
        options: {
            responsive: false,
            animation: false,
            events: [],
            layout: { padding: { left: 0, top: PAD_T, right: PAD_R, bottom: 0 } },
            plugins: { legend: { display: false }, tooltip: { enabled: false } },
            scales: { x: axisOptions(row, true), y: axisOptions(row, false) }
        },
        plugins: [ticksIn]
    });
}

function addDiv(cls, html, left, top) {
    const d = document.createElement('div');
    d.className = cls;
    d.innerHTML = html;
    d.style.left = left + 'px';
    d.style.top = top + 'px';
    fig.appendChild(d);
    return d;
}

// Titres des colonnes
regions.forEach((name, c) => addDiv('title', name, colLeft[c] + PLOT_W / 2 - 136, 16));

rows.forEach((row, r) => {
    addDiv('ylab', row.label, 32, rowTop[r] + PLOT_H / 2);
    regions.forEach((name, c) => {
        createPanel(row, r, c);
        addDiv('nlab', 'n = ' + row.n[c], colLeft[c] + PLOT_W / 2, rowTop[r] + PLOT_H - 31);
    });
});
</script>
</body>
</html>
